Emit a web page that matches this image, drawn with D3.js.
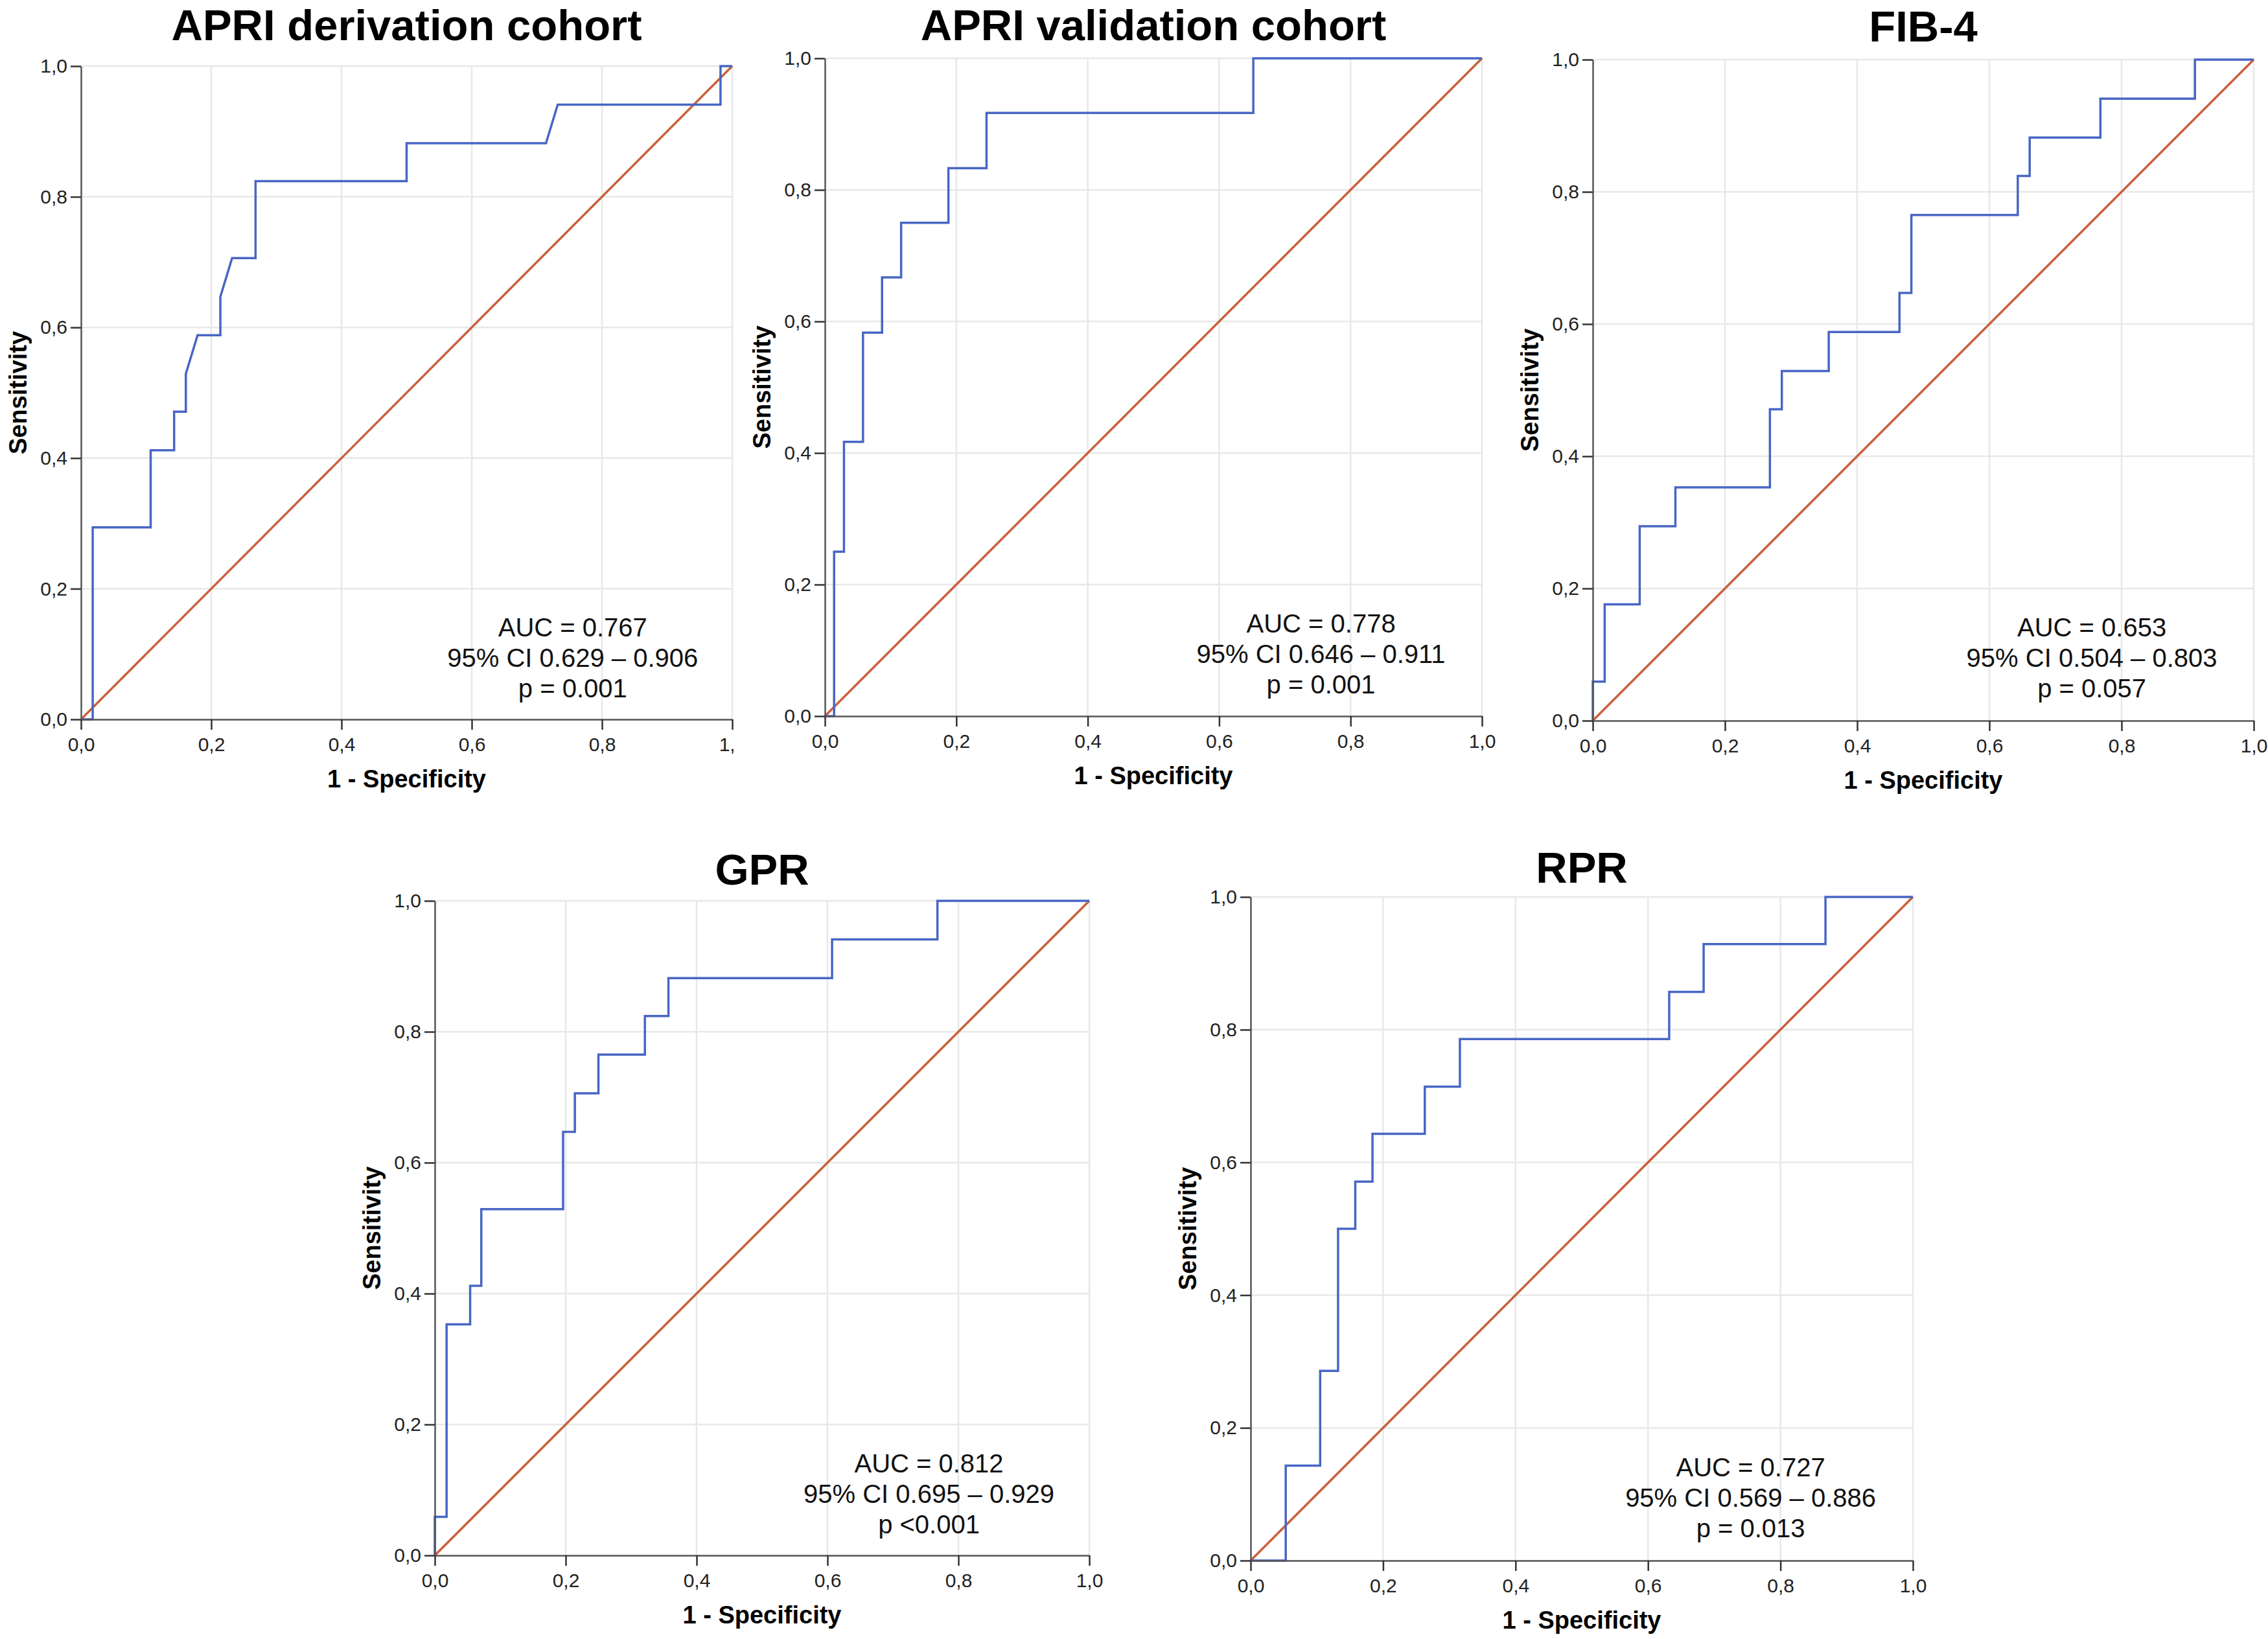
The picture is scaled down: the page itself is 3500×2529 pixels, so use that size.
<!DOCTYPE html>
<html>
<head>
<meta charset="utf-8">
<script src="https://cdn.jsdelivr.net/npm/d3@7"></script>
<style>
  body { margin: 0; background: #fff; }
  text { font-family: "Liberation Sans", Arial, sans-serif; }
</style>
</head>
<body>
<svg id="chart" width="3500" height="2529"></svg>
<script>
var WIDTH = 3500
var HEIGHT = 2529

// panel titles and stats
var titles = ["APRI derivation cohort", "APRI validation cohort", "FIB-4", "GPR", "RPR"];
var aucText = ["AUC = 0.767", "AUC = 0.778", "AUC = 0.653", "AUC = 0.812", "AUC = 0.727"];
var ciText = ["95% CI 0.629 \u2013 0.906", "95% CI 0.646 \u2013 0.911", "95% CI 0.504 \u2013 0.803",
              "95% CI 0.695 \u2013 0.929", "95% CI 0.569 \u2013 0.886"];
var pText = ["p = 0.001", "p = 0.001", "p = 0.057", "p <0.001", "p = 0.013"];

var tickValues = [0, 0.2, 0.4, 0.6, 0.8, 1.0];

// ROC curves, 1 - specificity (fpr) and sensitivity (tpr)
var apriDerivFpr = [0, 0.018, 0.018, 0.107, 0.107, 0.143, 0.143, 0.161, 0.161, 0.179, 0.214, 0.214, 0.232, 0.268, 0.268, 0.5, 0.5, 0.714, 0.732, 0.982, 0.982, 1];
var apriDerivTpr = [0, 0, 0.294, 0.294, 0.412, 0.412, 0.471, 0.471, 0.529, 0.588, 0.588, 0.647, 0.706, 0.706, 0.824, 0.824, 0.882, 0.882, 0.941, 0.941, 1, 1];

var apriValFpr = [0, 0.014, 0.014, 0.029, 0.029, 0.058, 0.058, 0.087, 0.087, 0.116, 0.116, 0.188, 0.188, 0.246, 0.246, 0.652, 0.652, 1];
var apriValTpr = [0, 0, 0.25, 0.25, 0.417, 0.417, 0.583, 0.583, 0.667, 0.667, 0.75, 0.75, 0.833, 0.833, 0.917, 0.917, 1, 1];

var fib4Fpr = [0, 0, 0.018, 0.018, 0.071, 0.071, 0.125, 0.125, 0.268, 0.268, 0.286, 0.286, 0.357, 0.357, 0.464, 0.464, 0.482, 0.482, 0.643, 0.643, 0.661, 0.661, 0.768, 0.768, 0.911, 0.911, 1];
var fib4Tpr = [0, 0.059, 0.059, 0.176, 0.176, 0.294, 0.294, 0.353, 0.353, 0.471, 0.471, 0.529, 0.529, 0.588, 0.588, 0.647, 0.647, 0.765, 0.765, 0.824, 0.824, 0.882, 0.882, 0.941, 0.941, 1, 1];

var gprFpr = [0, 0, 0.018, 0.018, 0.054, 0.054, 0.071, 0.071, 0.196, 0.196, 0.214, 0.214, 0.25, 0.25, 0.321, 0.321, 0.357, 0.357, 0.607, 0.607, 0.768, 0.768, 1];
var gprTpr = [0, 0.059, 0.059, 0.353, 0.353, 0.412, 0.412, 0.529, 0.529, 0.647, 0.647, 0.706, 0.706, 0.765, 0.765, 0.824, 0.824, 0.882, 0.882, 0.941, 0.941, 1, 1];

var rprFpr = [0, 0.053, 0.053, 0.105, 0.105, 0.132, 0.132, 0.158, 0.158, 0.184, 0.184, 0.263, 0.263, 0.316, 0.316, 0.632, 0.632, 0.684, 0.684, 0.868, 0.868, 1];
var rprTpr = [0, 0, 0.143, 0.143, 0.286, 0.286, 0.5, 0.5, 0.571, 0.571, 0.643, 0.643, 0.714, 0.714, 0.786, 0.786, 0.857, 0.857, 0.929, 0.929, 1, 1];

var fprs = [apriDerivFpr, apriValFpr, fib4Fpr, gprFpr, rprFpr];
var tprs = [apriDerivTpr, apriValTpr, fib4Tpr, gprTpr, rprTpr];

// where each panel sits on the page
var layout = [
    { x: 125, y: 102, w: 1005, h: 1008, ty: 62, clip: 1132 },
    { x: 1273, y: 90, w: 1014, h: 1015, ty: 62 },
    { x: 2458, y: 92, w: 1020, h: 1020, ty: 64 },
    { x: 671, y: 1390, w: 1010, h: 1010, ty: 1365 },
    { x: 1930, y: 1384, w: 1022, h: 1024, ty: 1362 }
];

var commaFmt = d3.formatLocale({ decimal: ",", thousands: ".", grouping: [3], currency: ["", ""] }).format(".1f");

var svg = d3.select("#chart");

for (var i = 0; i < layout.length; i++) {
    drawPanel(i);
}

function drawPanel(i) {
    var L = layout[i];
    var root = svg.append("g");

    if (L.clip) {
        svg.append("clipPath").attr("id", "clip" + i)
            .append("rect").attr("x", 0).attr("y", 0).attr("width", L.clip).attr("height", HEIGHT);
        root.attr("clip-path", "url(#clip" + i + ")");
    }

    var g = root.append("g").attr("transform", "translate(" + L.x + "," + L.y + ")");

    var x = d3.scaleLinear().domain([0, 1]).range([0, L.w]);
    var y = d3.scaleLinear().domain([0, 1]).range([L.h, 0]);

    // grid
    g.append("g").selectAll("line").data(tickValues.slice(1)).join("line")
        .attr("x1", function (d) { return x(d); }).attr("x2", function (d) { return x(d); })
        .attr("y1", 0).attr("y2", L.h)
        .style("stroke", "#e8e8e8").style("stroke-width", 2.5);
    g.append("g").selectAll("line").data(tickValues.slice(1)).join("line")
        .attr("y1", function (d) { return y(d); }).attr("y2", function (d) { return y(d); })
        .attr("x1", 0).attr("x2", L.w)
        .style("stroke", "#e8e8e8").style("stroke-width", 2.5);

    // diagonal reference
    g.append("line")
        .attr("x1", x(0)).attr("y1", y(0)).attr("x2", x(1)).attr("y2", y(1))
        .style("stroke", "#c9603a").style("stroke-width", 3.5);

    // ROC curve
    var pts = fprs[i].map(function (f, k) { return [f, tprs[i][k]]; });
    var line = d3.line().x(function (d) { return x(d[0]); }).y(function (d) { return y(d[1]); });
    g.append("path").datum(pts).attr("d", line)
        .style("fill", "none").style("stroke", "#4866c4").style("stroke-width", 3.5)
        .style("stroke-linejoin", "miter");

    // axes
    var xAxis = g.append("g").attr("transform", "translate(0," + L.h + ")")
        .call(d3.axisBottom(x).tickValues(tickValues).tickFormat(commaFmt).tickSize(16).tickPadding(12).tickSizeOuter(0));
    var yAxis = g.append("g")
        .call(d3.axisLeft(y).tickValues(tickValues).tickFormat(commaFmt).tickSize(16).tickPadding(5).tickSizeOuter(0));

    [xAxis, yAxis].forEach(function (a) {
        a.select(".domain").style("stroke", "#555").style("stroke-width", 2.5);
        a.selectAll(".tick line").style("stroke", "#333").style("stroke-width", 2.5);
        a.selectAll(".tick text").style("font-size", "30px").style("fill", "#222")
            .style("font-family", "'Liberation Sans', Arial, sans-serif");
    });

    // axis titles
    g.append("text")
        .attr("x", L.w / 2).attr("y", L.h + 105)
        .attr("text-anchor", "middle")
        .style("font-size", "38px").style("font-weight", "bold")
        .text("1 - Specificity");
    g.append("text")
        .attr("transform", "translate(-84," + (L.h / 2) + ") rotate(-90)")
        .attr("text-anchor", "middle")
        .style("font-size", "38px").style("font-weight", "bold")
        .text("Sensitivity");

    // panel title
    root.append("text")
        .attr("x", L.x + L.w / 2).attr("y", L.ty)
        .attr("text-anchor", "middle")
        .style("font-size", "67px").style("font-weight", "bold")
        .text(titles[i]);

    // stats block
    var lines = [aucText[i], ciText[i], pText[i]];
    g.append("g").selectAll("text").data(lines).join("text")
        .attr("x", L.w * 0.755)
        .attr("y", function (d, k) { return L.h * 0.873 + k * 47; })
        .attr("text-anchor", "middle")
        .style("font-size", "40px").style("fill", "#111")
        .text(function (d) { return d; });
}
</script>
</body>
</html>
